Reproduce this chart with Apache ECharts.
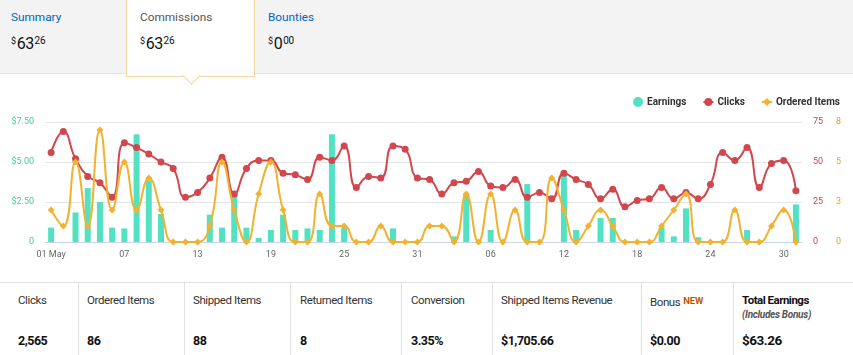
<!DOCTYPE html>
<html>
<head>
<meta charset="utf-8">
<script src="https://cdn.jsdelivr.net/npm/echarts@6/dist/echarts.min.js"></script>
<style>
html,body{margin:0;padding:0;width:853px;height:355px;overflow:hidden;background:#fff;font-family:'Roboto',sans-serif;}
#chart{position:absolute;left:0;top:0;width:853px;height:355px;z-index:1;}
#hdr{position:absolute;left:0;top:0;width:853px;height:74px;background:#f3f3f3;border-bottom:1px solid #e3e3e3;box-sizing:border-box;z-index:2;}
#tabsel{position:absolute;left:126px;top:-1px;width:129px;height:78px;background:#fff;border:1px solid #f3d7a6;border-top:none;box-sizing:border-box;z-index:3;}
#caret{position:absolute;left:58px;top:70px;width:12px;height:12px;background:#fff;border-right:1px solid #f3d7a6;border-bottom:1px solid #f3d7a6;transform:rotate(45deg);}
.tt{position:absolute;top:11.5px;font-size:11.8px;line-height:11.8px;white-space:nowrap;z-index:4;}
.tv{position:absolute;top:36px;font-size:16px;line-height:16px;letter-spacing:-0.6px;color:#111;white-space:nowrap;z-index:4;}
.tv sup{font-size:10px;vertical-align:5px;line-height:0;letter-spacing:-0.3px;margin-left:1px;}
.tv sup.c{font-size:9px;margin-left:0;margin-right:1px;}
.blue{color:#0066c0;}
.gray{color:#555;}
#ftr{position:absolute;left:0;top:282px;width:853px;height:73px;background:#fff;border-top:1px solid #e1e1e1;box-sizing:border-box;z-index:2;}
.sep{position:absolute;top:0;width:1px;height:73px;background:#e1e1e1;}
.fl{position:absolute;top:11.5px;font-size:11.5px;line-height:11.5px;letter-spacing:-0.4px;color:#333;white-space:nowrap;}
.fv{position:absolute;top:52px;font-size:12.5px;line-height:12.5px;letter-spacing:-0.5px;font-weight:bold;color:#111;white-space:nowrap;}
.new{color:#c45500;font-weight:bold;font-size:9.5px;vertical-align:2px;margin-left:3px;letter-spacing:-0.2px;}
.inc{position:absolute;top:27px;font-size:10px;line-height:10px;letter-spacing:-0.3px;font-style:italic;font-weight:bold;color:#555;white-space:nowrap;}
</style>
</head>
<body>
<div id="chart"></div>
<div id="hdr">
  <div class="tt blue" style="left:11px;">Summary</div>
  <div class="tv" style="left:11px;"><sup class="c">$</sup>63<sup>26</sup></div>
  <div class="tt blue" style="left:268px;">Bounties</div>
  <div class="tv" style="left:268px;"><sup class="c">$</sup>0<sup>00</sup></div>
</div>
<div id="tabsel">
  <div id="caret"></div>
  <div class="tt gray" style="left:13px;top:12.5px;">Commissions</div>
  <div class="tv" style="left:13px;top:37px;"><sup class="c">$</sup>63<sup>26</sup></div>
</div>
<div id="ftr">
  <div class="sep" style="left:78px;"></div>
  <div class="sep" style="left:184px;"></div>
  <div class="sep" style="left:290px;"></div>
  <div class="sep" style="left:401px;"></div>
  <div class="sep" style="left:492px;"></div>
  <div class="sep" style="left:641px;"></div>
  <div class="sep" style="left:733px;"></div>
  <div class="fl" style="left:18px;">Clicks</div>
  <div class="fv" style="left:18px;">2,565</div>
  <div class="fl" style="left:87px;">Ordered Items</div>
  <div class="fv" style="left:87px;">86</div>
  <div class="fl" style="left:193px;">Shipped Items</div>
  <div class="fv" style="left:193px;">88</div>
  <div class="fl" style="left:300px;">Returned Items</div>
  <div class="fv" style="left:300px;">8</div>
  <div class="fl" style="left:411px;">Conversion</div>
  <div class="fv" style="left:411px;">3.35%</div>
  <div class="fl" style="left:501px;">Shipped Items Revenue</div>
  <div class="fv" style="left:501px;">$1,705.66</div>
  <div class="fl" style="left:650px;">Bonus<span class="new">NEW</span></div>
  <div class="fv" style="left:650px;">$0.00</div>
  <div class="fl" style="left:742px;font-weight:bold;color:#111;letter-spacing:-0.5px;">Total Earnings</div>
  <div class="inc" style="left:742px;">(Includes Bonus)</div>
  <div class="fv" style="left:742px;top:50.5px;font-size:13.5px;line-height:13.5px;">$63.26</div>
</div>
<script>
var categories = ['01 May','02','03','04','05','06','07','08','09','10','11','12','13','14','15','16','17','18','19','20','21','22','23','24','25','26','27','28','29','30','31',
  '01','02','03','04','05','06','07','08','09','10','11','12','13','14','15','16','17','18','19','20','21','22','23','24','25','26','27','28','29','30','01'];
var earnings = [0.90,0,1.85,3.37,2.50,0.90,0.85,6.73,3.85,1.75,0,0,0,1.71,0.90,2.95,
  0.90,0.25,0.75,1.71,0.75,0.85,0.75,6.73,0.90,0,0,0,0.85,0,0,0,
  0,0.35,3.02,0,0.75,0,0,3.62,0,0,4.23,0.75,0,1.50,1.50,0,
  0,0,0.90,0.35,2.10,0.30,0,0,0,0.75,0,0,0,2.35];
var clicks = [56,69,52,41,37,28,62,59,55,50,46,28,31,40,53,30,
  46,51,51,43,42,39,53,51,60,34,41,40,60,58,40,39,
  30,37,38,44,35,34,39,28,31,27,43,39,36,27,33,22,
  26,27,34,27,31,27,36,56,51,59,34,49,51,32];
var orderedItems = [2,1,5,1,7,2,5,2,4,2,0,0,0,1,5,2,
  0,3,5,2,0,0,3,1,1,0,0,1,0,0,0,1,
  1,0,3,0,3,0,2,0,0,4,2,0,1,2,1,0,
  0,0,1,2,3,0,0,0,2,0,0,1,2,0];
var earningsTicks = [0, 2.5, 5, 7.5];
var clicksTicks = [0, 25, 50, 75];

var FONT = "Roboto, sans-serif";
var chart = echarts.init(document.getElementById('chart'), null, {renderer:'canvas'});
chart.setOption({
  animation: false,
  textStyle: {fontFamily: FONT},
  legend: {
    right: 13, top: 97, padding: 0, itemWidth: 10, itemHeight: 10, itemGap: 16,
    textStyle: {fontFamily: FONT, fontSize: 10, fontWeight: 'bold', color: '#333', padding: [0,0,0,-1]},
    data: [{name:'Earnings', icon:'circle'}, {name:'Clicks'}, {name:'Ordered Items'}]
  },
  grid: {left: 45, right: 51, top: 122, bottom: 113},
  xAxis: {
    type: 'category', data: categories, boundaryGap: true,
    axisLine: {lineStyle: {color: '#ccd6eb'}},
    axisTick: {show: false},
    axisLabel: {interval: 5, color: '#666', fontSize: 9, margin: 8, fontFamily: FONT}
  },
  yAxis: [
    {type:'value', min: earningsTicks[0], max: earningsTicks[3], interval: earningsTicks[1]-earningsTicks[0], position:'left',
     axisLine:{show:false}, axisTick:{show:false},
     splitLine:{lineStyle:{color:'#e6e6e6'}},
     axisLabel:{color:'#4cc7a3', fontSize:9, margin:11, fontFamily: FONT,
       formatter:function(v){return v===0?'0':'$'+v.toFixed(2);}}},
    {type:'value', min: clicksTicks[0], max: clicksTicks[3], interval: clicksTicks[1]-clicksTicks[0], position:'right',
     axisLine:{show:false}, axisTick:{show:false}, splitLine:{show:false},
     axisLabel:{color:'#c9474d', fontSize:9, margin:11, fontFamily: FONT}},
    {type:'value', min: 0, max: 7.5, interval: 2.5, position:'right', offset: 24,
     axisLine:{show:false}, axisTick:{show:false}, splitLine:{show:false},
     axisLabel:{color:'#dfa431', fontSize:9, margin:10, fontFamily: FONT,
       formatter:function(v){return String(Math.round(v));}}}
  ],
  series: [
    {name:'Earnings', type:'bar', yAxisIndex:0, data: earnings, barWidth: 6,
     itemStyle:{color:'#52e2c3'}, z:1},
    {name:'Clicks', type:'line', yAxisIndex:1, data: clicks, smooth: 0.5,
     symbol:'circle', symbolSize: 7, showAllSymbol: true,
     lineStyle:{color:'#d0484d', width:2}, itemStyle:{color:'#d0484d'}, z:3},
    {name:'Ordered Items', type:'line', yAxisIndex:2, data: orderedItems, smooth: 0.5,
     symbol:'diamond', symbolSize: 7, showAllSymbol: true,
     lineStyle:{color:'#f2b22f', width:2}, itemStyle:{color:'#f2b22f'}, z:4}
  ]
});
</script>
</body>
</html>
